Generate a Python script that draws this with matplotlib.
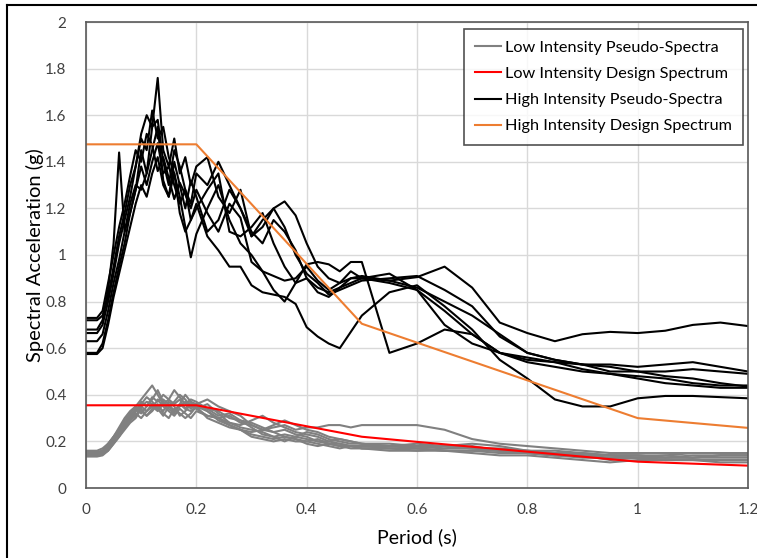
import matplotlib
matplotlib.use("Agg")
import matplotlib.pyplot as plt
from matplotlib.lines import Line2D

plt.rcParams['font.family'] = ['Lato', 'DejaVu Sans']

# period grid shared by all spectra (s)
period = [0, 0.01, 0.02, 0.03, 0.04, 0.05, 0.06, 0.07, 0.08, 0.09,
          0.10, 0.11, 0.12, 0.13, 0.14, 0.15, 0.16, 0.17, 0.18, 0.19,
          0.20, 0.22, 0.24, 0.26, 0.28, 0.30, 0.32, 0.34, 0.36, 0.38,
          0.40, 0.42, 0.44, 0.46, 0.48, 0.50, 0.55, 0.60, 0.65, 0.70,
          0.75, 0.80, 0.85, 0.90, 0.95, 1.00, 1.05, 1.10, 1.15, 1.20]

# low intensity pseudo-spectra (g)
low_1 = [0.15, 0.15, 0.15, 0.16, 0.19, 0.22, 0.25, 0.28, 0.30, 0.33, 0.35, 0.37, 0.36, 0.34, 0.38, 0.36, 0.33, 0.35, 0.37, 0.34, 0.36,
         0.33, 0.30, 0.31, 0.28, 0.27, 0.25, 0.26, 0.27, 0.25, 0.26, 0.26, 0.27, 0.27, 0.26, 0.27,
         0.27, 0.27, 0.25, 0.21, 0.19, 0.18, 0.17, 0.16, 0.15, 0.15, 0.15, 0.15, 0.15, 0.15]
low_2 = [0.145, 0.145, 0.145, 0.15, 0.18, 0.22, 0.26, 0.30, 0.33, 0.35, 0.38, 0.41, 0.44, 0.40, 0.36, 0.38, 0.42, 0.39, 0.36, 0.38, 0.37,
         0.34, 0.33, 0.30, 0.29, 0.28, 0.26, 0.24, 0.25, 0.23, 0.22, 0.20, 0.19, 0.19, 0.18, 0.18,
         0.18, 0.17, 0.18, 0.17, 0.16, 0.15, 0.14, 0.14, 0.13, 0.13, 0.12, 0.12, 0.12, 0.12]
low_3 = [0.14, 0.14, 0.14, 0.15, 0.17, 0.20, 0.24, 0.27, 0.31, 0.34, 0.32, 0.35, 0.38, 0.42, 0.37, 0.35, 0.33, 0.36, 0.40, 0.37, 0.34,
         0.36, 0.32, 0.28, 0.27, 0.29, 0.31, 0.28, 0.26, 0.24, 0.23, 0.22, 0.20, 0.21, 0.20, 0.19,
         0.18, 0.19, 0.18, 0.17, 0.17, 0.16, 0.15, 0.15, 0.14, 0.14, 0.14, 0.13, 0.14, 0.14]
low_4 = [0.155, 0.155, 0.155, 0.16, 0.18, 0.21, 0.23, 0.26, 0.29, 0.31, 0.35, 0.33, 0.36, 0.34, 0.31, 0.35, 0.37, 0.40, 0.38, 0.35, 0.36,
         0.38, 0.35, 0.33, 0.31, 0.27, 0.25, 0.24, 0.22, 0.21, 0.20, 0.21, 0.19, 0.18, 0.18, 0.17,
         0.17, 0.17, 0.16, 0.16, 0.15, 0.15, 0.14, 0.13, 0.13, 0.13, 0.12, 0.12, 0.11, 0.11]
low_5 = [0.135, 0.135, 0.135, 0.14, 0.16, 0.19, 0.22, 0.25, 0.28, 0.30, 0.34, 0.31, 0.33, 0.36, 0.32, 0.30, 0.34, 0.32, 0.30, 0.32, 0.35,
         0.30, 0.28, 0.26, 0.25, 0.24, 0.25, 0.27, 0.29, 0.27, 0.25, 0.24, 0.22, 0.21, 0.20, 0.19,
         0.19, 0.18, 0.18, 0.19, 0.18, 0.16, 0.15, 0.14, 0.14, 0.13, 0.13, 0.14, 0.14, 0.14]
low_6 = [0.15, 0.15, 0.15, 0.155, 0.17, 0.20, 0.24, 0.28, 0.31, 0.33, 0.36, 0.39, 0.37, 0.35, 0.33, 0.37, 0.35, 0.31, 0.33, 0.36, 0.34,
         0.31, 0.30, 0.27, 0.25, 0.23, 0.22, 0.21, 0.22, 0.21, 0.19, 0.18, 0.19, 0.18, 0.17, 0.17,
         0.16, 0.16, 0.17, 0.18, 0.16, 0.15, 0.14, 0.14, 0.12, 0.13, 0.14, 0.15, 0.15, 0.15]
low_7 = [0.14, 0.14, 0.14, 0.145, 0.16, 0.19, 0.22, 0.26, 0.29, 0.32, 0.30, 0.33, 0.35, 0.33, 0.36, 0.34, 0.32, 0.36, 0.34, 0.33, 0.35,
         0.33, 0.29, 0.27, 0.25, 0.22, 0.21, 0.20, 0.21, 0.20, 0.20, 0.19, 0.18, 0.17, 0.18, 0.18,
         0.17, 0.16, 0.16, 0.15, 0.14, 0.14, 0.13, 0.12, 0.11, 0.12, 0.12, 0.12, 0.12, 0.12]
low_8 = [0.16, 0.16, 0.16, 0.17, 0.19, 0.22, 0.25, 0.27, 0.30, 0.33, 0.37, 0.35, 0.39, 0.37, 0.40, 0.38, 0.36, 0.38, 0.34, 0.37, 0.36,
         0.34, 0.31, 0.32, 0.29, 0.26, 0.23, 0.22, 0.20, 0.22, 0.24, 0.23, 0.21, 0.20, 0.19, 0.19,
         0.18, 0.18, 0.17, 0.17, 0.16, 0.16, 0.16, 0.15, 0.14, 0.14, 0.13, 0.13, 0.13, 0.13]
low_9 = [0.145, 0.145, 0.145, 0.15, 0.17, 0.21, 0.25, 0.29, 0.32, 0.35, 0.33, 0.31, 0.34, 0.38, 0.35, 0.33, 0.31, 0.34, 0.32, 0.30, 0.33,
         0.31, 0.30, 0.28, 0.26, 0.25, 0.24, 0.22, 0.23, 0.22, 0.21, 0.20, 0.20, 0.19, 0.18, 0.17,
         0.17, 0.17, 0.16, 0.16, 0.16, 0.15, 0.15, 0.14, 0.14, 0.14, 0.13, 0.13, 0.14, 0.14]

# high intensity pseudo-spectra (g)
high_1 = [0.73, 0.73, 0.73, 0.76, 0.88, 1.00, 1.12, 1.22, 1.34, 1.45, 1.40, 1.52, 1.47, 1.36, 1.42, 1.33, 1.24, 1.31, 1.26, 1.20, 1.28,
          1.18, 1.10, 1.22, 1.16, 0.97, 0.93, 0.91, 0.89, 0.90, 0.95, 0.89, 0.85, 0.88, 0.90, 0.91,
          0.89, 0.905, 0.95, 0.86, 0.71, 0.665, 0.63, 0.66, 0.67, 0.665, 0.675, 0.70, 0.71, 0.695]
high_2 = [0.72, 0.72, 0.72, 0.74, 0.82, 0.95, 1.08, 1.18, 1.30, 1.38, 1.52, 1.60, 1.55, 1.76, 1.45, 1.38, 1.50, 1.35, 1.42, 1.30, 1.38,
          1.42, 1.25, 1.18, 1.28, 1.08, 1.12, 1.20, 1.23, 1.17, 1.05, 0.95, 0.90, 0.88, 0.93, 0.90,
          0.89, 0.86, 0.80, 0.74, 0.66, 0.58, 0.55, 0.53, 0.53, 0.52, 0.53, 0.54, 0.52, 0.50]
high_3 = [0.68, 0.68, 0.68, 0.72, 0.85, 1.05, 1.44, 1.10, 1.18, 1.28, 1.45, 1.35, 1.55, 1.58, 1.40, 1.30, 1.45, 1.38, 1.28, 1.22, 1.35,
          1.30, 1.40, 1.30, 1.20, 1.10, 1.05, 1.15, 1.10, 1.02, 0.90, 0.84, 0.82, 0.86, 0.90, 0.90,
          0.88, 0.85, 0.76, 0.66, 0.58, 0.55, 0.54, 0.53, 0.50, 0.50, 0.50, 0.51, 0.50, 0.49]
high_4 = [0.665, 0.665, 0.665, 0.70, 0.80, 0.92, 1.05, 1.15, 1.25, 1.38, 1.50, 1.45, 1.62, 1.50, 1.55, 1.42, 1.35, 1.25, 1.12, 0.99, 1.09,
          1.20, 1.30, 1.15, 1.05, 1.00, 0.93, 0.85, 0.80, 0.88, 0.96, 0.97, 0.96, 0.93, 0.97, 0.97,
          0.58, 0.62, 0.68, 0.66, 0.58, 0.54, 0.52, 0.50, 0.49, 0.48, 0.47, 0.45, 0.44, 0.44]
high_5 = [0.63, 0.63, 0.63, 0.66, 0.76, 0.88, 0.98, 1.10, 1.22, 1.30, 1.28, 1.35, 1.45, 1.55, 1.32, 1.25, 1.40, 1.30, 1.20, 1.32, 1.25,
          1.10, 1.15, 1.28, 1.20, 1.08, 1.15, 1.20, 1.12, 1.00, 0.92, 0.88, 0.83, 0.85, 0.87, 0.89,
          0.90, 0.91, 0.85, 0.78, 0.65, 0.58, 0.55, 0.53, 0.52, 0.50, 0.48, 0.47, 0.45, 0.435]
high_6 = [0.58, 0.58, 0.58, 0.62, 0.72, 0.84, 0.95, 1.05, 1.18, 1.28, 1.38, 1.30, 1.40, 1.48, 1.35, 1.38, 1.30, 1.22, 1.28, 1.15, 1.20,
          1.28, 1.35, 1.10, 1.08, 1.12, 1.18, 1.05, 0.95, 0.88, 0.90, 0.86, 0.84, 0.86, 0.88, 0.90,
          0.92, 0.85, 0.70, 0.62, 0.58, 0.56, 0.54, 0.51, 0.49, 0.47, 0.45, 0.44, 0.43, 0.43]
high_7 = [0.575, 0.575, 0.575, 0.60, 0.70, 0.82, 0.92, 1.02, 1.12, 1.22, 1.30, 1.25, 1.35, 1.42, 1.30, 1.25, 1.35, 1.18, 1.10, 1.15, 1.22,
          1.08, 1.02, 0.95, 0.95, 0.87, 0.84, 0.83, 0.82, 0.79, 0.69, 0.65, 0.62, 0.60, 0.67, 0.74,
          0.84, 0.87, 0.78, 0.68, 0.55, 0.47, 0.38, 0.35, 0.35, 0.385, 0.395, 0.395, 0.39, 0.385]

low_spectra = [low_1, low_2, low_3, low_4, low_5, low_6, low_7, low_8, low_9]
high_spectra = [high_1, high_2, high_3, high_4, high_5, high_6, high_7]

# design spectra (corner points)
low_design_T = [0, 0.2, 0.3, 0.4, 0.5, 0.6, 0.8, 1.0, 1.2]
low_design_Sa = [0.355, 0.355, 0.31, 0.265, 0.22, 0.198, 0.156, 0.113, 0.096]
high_design_T = [0, 0.2, 0.5, 1.0, 1.2]
high_design_Sa = [1.475, 1.475, 0.705, 0.30, 0.258]

fig = plt.figure(figsize=(7.57, 5.58), dpi=100)
ax = fig.add_axes([86 / 757, 1 - 488 / 558, 662 / 757, 466 / 558])

for i, s in enumerate(low_spectra):
    ax.plot(period, s, color="#808080", lw=1.5,
            label="Low Intensity Pseudo-Spectra" if i == 0 else None)
ax.plot(low_design_T, low_design_Sa, color="#FF0000", lw=1.5, label="Low Intensity Design Spectrum")
for i, s in enumerate(high_spectra):
    ax.plot(period, s, color="black", lw=1.5,
            label="High Intensity Pseudo-Spectra" if i == 0 else None)
ax.plot(high_design_T, high_design_Sa, color="#ED7D31", lw=1.5, label="High Intensity Design Spectrum")

ax.set_xlim(0, 1.2)
ax.set_ylim(0, 2)
ax.set_xticks([0, 0.2, 0.4, 0.6, 0.8, 1.0, 1.2])
ax.set_xticklabels(["0", "0.2", "0.4", "0.6", "0.8", "1", "1.2"])
ax.set_yticks([0, 0.2, 0.4, 0.6, 0.8, 1.0, 1.2, 1.4, 1.6, 1.8, 2.0])
ax.set_yticklabels(["0", "0.2", "0.4", "0.6", "0.8", "1", "1.2", "1.4", "1.6", "1.8", "2"])
ax.tick_params(length=0, labelsize=11, colors="#404040")
ax.tick_params(axis="y", pad=14)
ax.tick_params(axis="x", pad=11)
ax.grid(True, color="#D9D9D9", lw=1)
ax.set_axisbelow(True)
for sp in ax.spines.values():
    sp.set_color("#595959")
    sp.set_linewidth(1.2)

ax.set_xlabel("Period (s)", fontsize=14, labelpad=8)
ax.set_ylabel("Spectral Acceleration (g)", fontsize=14.5, labelpad=1)

leg = ax.legend(loc="upper right", bbox_to_anchor=(0.9924, 0.9843), borderaxespad=0,
                fontsize=11.7, frameon=True, fancybox=False, edgecolor="#262626",
                handlelength=1.6, handletextpad=0.2, labelspacing=0.72, borderpad=0.7)
leg.get_frame().set_linewidth(1.2)

# outer chart frame (top and left edges visible in the crop)
fig.add_artist(Line2D([7 / 757, 7 / 757], [0, 1 - 5 / 558], transform=fig.transFigure, color="black", lw=1.5))
fig.add_artist(Line2D([7 / 757, 1], [1 - 5 / 558, 1 - 5 / 558], transform=fig.transFigure, color="black", lw=1.5))

fig.savefig("out.png", dpi=100)
